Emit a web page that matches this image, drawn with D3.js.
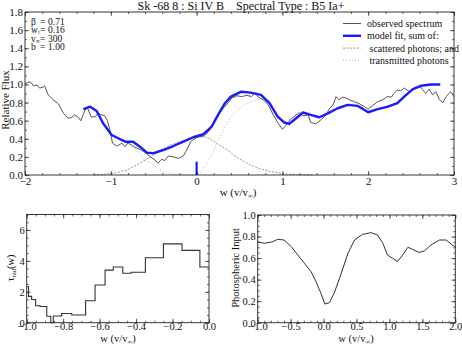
<!DOCTYPE html>
<html>
<head>
<meta charset="utf-8">
<script src="https://cdn.jsdelivr.net/npm/d3@7"></script>
<style>
  body { margin: 0; background: #fff; }
  svg { display: block; }
  text { font-family: "Liberation Serif", "DejaVu Serif", serif; fill: #111; }
</style>
</head>
<body>
<div id="chart"></div>
<script>
// ── Data ───────────────────────────────────────────────────────────────────
// top panel: [w, relative flux]
var observed = [[-2.00,1.01],[-1.94,1.03],[-1.90,0.985],[-1.86,0.995],[-1.83,0.96],[-1.79,0.97],[-1.77,0.985],
  [-1.73,0.885],[-1.67,0.83],[-1.61,0.785],[-1.55,0.68],[-1.50,0.627],[-1.46,0.634],[-1.42,0.664],[-1.38,0.638],
  [-1.35,0.60],[-1.30,0.72],[-1.27,0.737],[-1.23,0.64],[-1.18,0.645],[-1.15,0.68],[-1.11,0.665],[-1.07,0.653],
  [-1.04,0.60],[-1.01,0.50],[-0.98,0.35],[-0.93,0.32],[-0.87,0.35],[-0.83,0.313],[-0.80,0.357],[-0.76,0.33],
  [-0.72,0.306],[-0.66,0.284],[-0.60,0.247],[-0.54,0.203],[-0.485,0.166],[-0.45,0.13],[-0.41,0.173],[-0.37,0.16],
  [-0.33,0.21],[-0.27,0.20],[-0.21,0.184],[-0.155,0.21],[-0.115,0.276],[-0.07,0.368],[-0.03,0.395],[0.02,0.424],
  [0.08,0.43],[0.14,0.48],[0.195,0.56],[0.25,0.655],[0.31,0.737],[0.37,0.80],[0.41,0.85],[0.47,0.875],[0.525,0.866],
  [0.585,0.88],[0.64,0.866],[0.68,0.905],[0.72,0.86],[0.78,0.83],[0.835,0.774],[0.89,0.67],[0.945,0.58],[1.00,0.505],
  [1.04,0.545],[1.10,0.62],[1.16,0.664],[1.20,0.69],[1.24,0.653],[1.30,0.664],[1.33,0.58],[1.39,0.564],[1.45,0.61],
  [1.51,0.664],[1.55,0.737],[1.59,0.774],[1.625,0.866],[1.66,0.83],[1.70,0.86],[1.74,0.85],[1.78,0.83],[1.84,0.81],
  [1.90,0.785],[1.955,0.755],[2.00,0.727],[2.05,0.763],[2.11,0.81],[2.17,0.83],[2.22,0.866],[2.27,0.86],[2.30,0.90],
  [2.34,0.94],[2.38,0.93],[2.42,0.96],[2.48,0.92],[2.54,0.948],[2.60,0.985],[2.635,0.94],[2.67,0.90],[2.71,0.948],
  [2.75,0.885],[2.79,0.92],[2.83,0.83],[2.87,0.80],[2.91,0.866],[2.96,0.92],[3.00,0.866]];

var modelFit = [[-1.32,0.727],[-1.24,0.755],[-1.165,0.708],[-1.09,0.572],[-0.99,0.442],[-0.89,0.395],[-0.83,0.368],
  [-0.74,0.368],[-0.66,0.313],[-0.58,0.247],[-0.505,0.24],[-0.39,0.276],[-0.27,0.32],[-0.155,0.368],[-0.04,0.417],
  [0.08,0.45],[0.175,0.534],[0.25,0.664],[0.33,0.793],[0.40,0.866],[0.52,0.92],[0.63,0.91],[0.75,0.885],[0.85,0.793],
  [0.945,0.645],[1.02,0.58],[1.08,0.564],[1.16,0.627],[1.24,0.69],[1.33,0.664],[1.43,0.638],[1.53,0.68],[1.645,0.737],
  [1.76,0.774],[1.88,0.763],[2.00,0.693],[2.11,0.727],[2.23,0.755],[2.34,0.793],[2.42,0.866],[2.52,0.948],
  [2.615,0.985],[2.73,1.0],[2.84,1.0]];

var scattered = [[-1.2,0],[-1.13,0.003],[-0.97,0.018],[-0.81,0.055],[-0.66,0.13],[-0.505,0.22],[-0.35,0.313],
  [-0.19,0.368],[-0.04,0.405],[0.08,0.424],[0.155,0.40],[0.25,0.34],[0.35,0.28],[0.45,0.21],[0.55,0.15],
  [0.63,0.11],[0.74,0.07],[0.87,0.037],[1.02,0.012],[1.2,0.002],[1.35,0]];

var transmitted = [[-0.83,0.368],[-0.74,0.313],[-0.62,0.184],[-0.50,0.11],[-0.39,0.037],[-0.27,0.01],[-0.2,0],
  [0.0,0],[0.04,0.018],[0.12,0.13],[0.195,0.258],[0.29,0.46],[0.39,0.627],[0.52,0.755],[0.63,0.81],[0.75,0.848],
  [0.85,0.79]];

// marker at w = 0
var zeroMark = [0, 0.147];

var params = [["β", "", "0.71"], ["w", "t", "0.16"], ["v", "∞", "300"], ["b", "", "1.00"]];

var legendItems = [
  { label: "observed spectrum",        key: "obs" },
  { label: "model fit, sum of:",       key: "model" },
  { label: " scattered photons; and",  key: "scat" },
  { label: " transmitted photons",     key: "trans" }
];

// bottom left: step function tau_rad(w), left edges + values, last edge closes at 0
var tauEdges = [-1.0,-0.99,-0.973,-0.951,-0.927,-0.89,-0.868,-0.854,-0.808,-0.753,-0.677,-0.625,-0.57,
  -0.525,-0.473,-0.427,-0.349,-0.25,-0.148,-0.05,0.0];
var tauVals = [2.33,1.7,1.5,1.1,1.05,0.42,0,0.43,0.6,0.5,1.42,2.44,3.4,3.6,3.2,3.26,4.2,5.1,4.68,3.6];

// bottom right: photospheric input
var photospheric = [[-1,0.752],[-0.9,0.737],[-0.77,0.752],[-0.70,0.774],[-0.60,0.768],[-0.49,0.706],
  [-0.39,0.628],[-0.29,0.551],[-0.19,0.474],[-0.115,0.381],[-0.04,0.272],[0.02,0.173],[0.09,0.186],
  [0.16,0.272],[0.26,0.443],[0.37,0.644],[0.47,0.768],[0.59,0.82],[0.72,0.836],[0.82,0.814],[0.90,0.737],
  [0.97,0.628],[1.05,0.598],[1.12,0.567],[1.20,0.628],[1.28,0.70],[1.35,0.681],[1.45,0.653],[1.53,0.666],
  [1.63,0.721],[1.76,0.768],[1.86,0.768],[2.0,0.70]];

// ticks
var topXMajor = [-2,-1,0,1,2,3];
var topYMajor = [0,0.2,0.4,0.6,0.8,1.0,1.2,1.4,1.6,1.8];
var blXMajor = [-1.0,-0.8,-0.6,-0.4,-0.2,0.0];
var blYMajor = [0,2,4,6];
var brXMajor = [-1.0,-0.5,0.0,0.5,1.0,1.5,2.0];
var brYMajor = [0,0.2,0.4,0.6,0.8,1.0];

// ── Drawing ────────────────────────────────────────────────────────────────
var W = 462, H = 347;
var svg = d3.select("#chart").append("svg").attr("width", W).attr("height", H);

function steps(a, b, s) {
  var out = [];
  for (var v = a; v <= b + 1e-9; v += s) out.push(+v.toFixed(4));
  return out;
}

// boxed frame with inward ticks on all four sides
function frame(g, x, y, o) {
  var x0 = x.range()[0], x1 = x.range()[1], y0 = y.range()[0], y1 = y.range()[1];
  function ax(gen, tx_, ty_, vals, size, fmt, pad) {
    var a = g.append("g").attr("transform", "translate(" + tx_ + "," + ty_ + ")")
      .call(gen.tickValues(vals).tickSize(-size).tickFormat(fmt || "").tickPadding(pad));
    a.select(".domain").remove();
    a.selectAll("line").attr("stroke", "#222").attr("stroke-width", 0.7);
    a.selectAll("text").style("font-family", "Liberation Serif").style("font-size", o.font + "px").attr("fill", "#111");
    return a;
  }
  ax(d3.axisBottom(x), 0, y0, o.xMinor, 2);
  ax(d3.axisTop(x), 0, y1, o.xMinor, 2);
  ax(d3.axisLeft(y), x0, 0, o.yMinor, 2);
  ax(d3.axisRight(y), x1, 0, o.yMinor, 2);
  ax(d3.axisBottom(x), 0, y0, o.xMajor, 4, o.xFmt, o.xPad);
  ax(d3.axisTop(x), 0, y1, o.xMajor, 4);
  ax(d3.axisLeft(y), x0, 0, o.yMajor, 4, o.yFmt, o.yPad);
  ax(d3.axisRight(y), x1, 0, o.yMajor, 4);
  g.append("rect").attr("x", x0).attr("y", y1).attr("width", x1 - x0).attr("height", y0 - y1)
    .attr("fill", "none").attr("stroke", "#222").attr("stroke-width", 0.9);
}

function wLabel(g, x, y, fs) {
  g.append("text").attr("x", x).attr("y", y).attr("text-anchor", "middle").style("font-size", fs + "px")
    .html('w (v/v<tspan dy="2" font-size="6.5">∞</tspan><tspan dy="-2">)</tspan>');
}

// ── Top panel ──
var tx = d3.scaleLinear().domain([-2, 3]).range([25, 454]);
var ty = d3.scaleLinear().domain([0, 1.8]).range([175, 12]);
var tp = svg.append("g");

var line = d3.line().x(function (d) { return tx(d[0]); }).y(function (d) { return ty(d[1]); });

tp.append("path").datum(scattered).attr("d", line).attr("fill", "none")
  .attr("stroke", "#888").attr("stroke-width", 0.9).attr("stroke-dasharray", "2,1.5");
tp.append("path").datum(transmitted).attr("d", line).attr("fill", "none")
  .attr("stroke", "#aaa").attr("stroke-width", 0.9).attr("stroke-dasharray", "1,2");
tp.append("path").datum(observed).attr("d", line).attr("fill", "none")
  .attr("stroke", "#444").attr("stroke-width", 0.9);
tp.append("path").datum(modelFit).attr("d", line).attr("fill", "none")
  .attr("stroke", "#1a1aff").attr("stroke-width", 2.4).attr("stroke-linejoin", "round");
tp.append("line").attr("x1", tx(zeroMark[0])).attr("x2", tx(zeroMark[0]))
  .attr("y1", ty(0)).attr("y2", ty(zeroMark[1])).attr("stroke", "#1a1aff").attr("stroke-width", 2.2);

frame(tp, tx, ty, {
  xMajor: topXMajor, xMinor: steps(-2, 3, 0.2), yMajor: topYMajor, yMinor: steps(0, 1.8, 0.1),
  xFmt: d3.format("d"), yFmt: d3.format(".1f"), font: 11, xPad: 2, yPad: 2
});

tp.append("text").attr("x", 241).attr("y", 10).attr("text-anchor", "middle").style("font-size", "12px")
  .attr("xml:space", "preserve").text("Sk -68 8 : Si IV B    Spectral Type : B5 Ia+");
wLabel(tp, 238, 196, 11);
tp.append("text").attr("transform", "translate(8.5,100) rotate(-90)").attr("text-anchor", "middle")
  .style("font-size", "11px").text("Relative Flux");

// parameter block
var pg = tp.append("g");
params.forEach(function (p, i) {
  var yy = 24.5 + i * 8.5;
  var t = pg.append("text").attr("x", 31).attr("y", yy).style("font-size", "9.5px").text(p[0]);
  if (p[1]) t.append("tspan").attr("dy", 1).style("font-size", "6px").text(p[1]);
  pg.append("text").attr("x", 40).attr("y", yy).style("font-size", "9.5px").text("=");
  pg.append("text").attr("x", 48).attr("y", yy).style("font-size", "9.5px").text(p[2]);
});

// legend
var lg = tp.append("g");
legendItems.forEach(function (it, i) {
  var yy = 23.5 + i * 12.3;
  var ln = lg.append("line").attr("x1", 343).attr("x2", 361).attr("y1", yy).attr("y2", yy);
  if (it.key === "obs") ln.attr("stroke", "#444").attr("stroke-width", 0.9);
  if (it.key === "model") ln.attr("stroke", "#1a1aff").attr("stroke-width", 2.4);
  if (it.key === "scat") ln.attr("stroke", "#888").attr("stroke-width", 0.9).attr("stroke-dasharray", "2,1.5");
  if (it.key === "trans") ln.attr("stroke", "#aaa").attr("stroke-width", 0.9).attr("stroke-dasharray", "1,2");
  lg.append("text").attr("x", 367).attr("y", yy + 3.5).style("font-size", "10px")
    .attr("xml:space", "preserve").text(it.label);
});

// ── Bottom left: tau_rad step ──
var bx = d3.scaleLinear().domain([-1, 0]).range([26.7, 209]);
var by = d3.scaleLinear().domain([0, 7]).range([322.7, 214.5]);
var bl = svg.append("g");
var stepPts = tauVals.map(function (v, i) { return [tauEdges[i], v]; });
stepPts.push([tauEdges[tauEdges.length - 1], tauVals[tauVals.length - 1]]);
bl.append("path").datum(stepPts)
  .attr("d", d3.line().curve(d3.curveStepAfter).x(function (d) { return bx(d[0]); }).y(function (d) { return by(d[1]); }))
  .attr("fill", "none").attr("stroke", "#333").attr("stroke-width", 1.1);
frame(bl, bx, by, {
  xMajor: blXMajor, xMinor: steps(-1, 0, 0.05), yMajor: blYMajor, yMinor: steps(0, 7, 0.5),
  xFmt: d3.format(".1f"), yFmt: d3.format("d"), font: 10.5, xPad: 0, yPad: 2
});
wLabel(bl, 118, 342, 10.5);
bl.append("text").attr("transform", "translate(14,268) rotate(-90)").attr("text-anchor", "middle")
  .style("font-size", "10.5px")
  .html('τ<tspan dy="2" font-size="6.5">rad</tspan><tspan dy="-2">(w)</tspan>');

// ── Bottom right: photospheric input ──
var rx = d3.scaleLinear().domain([-1, 2]).range([257.7, 455.3]);
var ry = d3.scaleLinear().domain([0, 1]).range([322.7, 215]);
var br = svg.append("g");
br.append("path").datum(photospheric)
  .attr("d", d3.line().x(function (d) { return rx(d[0]); }).y(function (d) { return ry(d[1]); }))
  .attr("fill", "none").attr("stroke", "#333").attr("stroke-width", 1);
frame(br, rx, ry, {
  xMajor: brXMajor, xMinor: steps(-1, 2, 0.1), yMajor: brYMajor, yMinor: steps(0, 1, 0.05),
  xFmt: d3.format(".1f"), yFmt: d3.format(".1f"), font: 10.5, xPad: 0, yPad: 2
});
wLabel(br, 356, 342, 10.5);
br.append("text").attr("transform", "translate(239,268) rotate(-90)").attr("text-anchor", "middle")
  .style("font-size", "10.5px").text("Photospheric Input");
</script>
</body>
</html>
